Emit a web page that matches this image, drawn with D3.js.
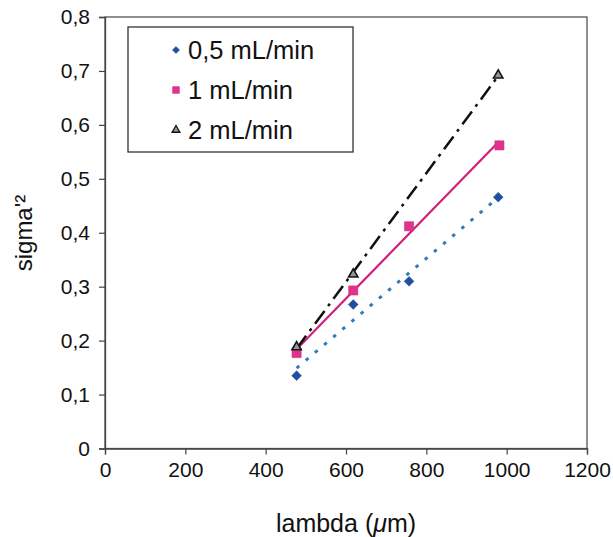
<!DOCTYPE html>
<html>
<head>
<meta charset="utf-8">
<script src="https://cdn.jsdelivr.net/npm/d3@7"></script>
<style>
  html, body { margin: 0; padding: 0; background: #fff; }
  svg { display: block; font-family: "Liberation Sans", Arial, sans-serif; }
</style>
</head>
<body>
<svg id="chart" width="613" height="537"></svg>
<script>
// ---- data ----
const seriesNames = ["0,5 mL/min", "1 mL/min", "2 mL/min"];
const lambda05 = [477, 618, 757, 979];
const sigma05  = [0.135, 0.267, 0.310, 0.466];
const lambda1  = [477, 618, 757, 982];
const sigma1   = [0.177, 0.293, 0.412, 0.562];
const lambda2  = [477, 618, 979];
const sigma2   = [0.188, 0.323, 0.692];
const xTicks = [0, 200, 400, 600, 800, 1000, 1200];
const yTicks = [0, 0.1, 0.2, 0.3, 0.4, 0.5, 0.6, 0.7, 0.8];

const series = [
  { name: seriesNames[0], xs: lambda05, ys: sigma05, shape: d3.symbolSquare, rot: 45, fill: "#1f4f9e", stroke: "#1f4f9e",
    line: "#2f7bbd", width: 3, dash: "3.5,8.5", size: 48, legSize: 26, sw: 0.5 },
  { name: seriesNames[1], xs: lambda1, ys: sigma1, shape: d3.symbolSquare, rot: 0, fill: "#e0338c", stroke: "#d42a82",
    line: "#d0207a", width: 2.2, dash: null, size: 85, legSize: 48, sw: 0.5 },
  { name: seriesNames[2], xs: lambda2, ys: sigma2, shape: d3.symbolTriangle, rot: 0, fill: "#8f998e", stroke: "#151515",
    line: "#111111", width: 2.5, dash: "16,6,3,6", size: 38, legSize: 26, sw: 1.6 }
];

const svg = d3.select("#chart");
const L = 105, R = 587, T = 17, B = 448.5;
const x = d3.scaleLinear().domain([0, 1200]).range([L, R]);
const y = d3.scaleLinear().domain([0, 0.8]).range([B, T]);

const fmt = v => d3.format(".1f")(v).replace(".", ",");

// plot frame
svg.append("rect").attr("x", L).attr("y", T).attr("width", R - L).attr("height", B - T)
  .attr("fill", "none").attr("stroke", "#555").attr("stroke-width", 1.3);

// axes
const xAxis = svg.append("g").attr("transform", `translate(0,${B})`)
  .call(d3.axisBottom(x).tickValues(xTicks).tickSize(6).tickPadding(8).tickFormat(d => String(d)));
const yAxis = svg.append("g").attr("transform", `translate(${L},0)`)
  .call(d3.axisLeft(y).tickValues(yTicks).tickSize(6).tickPadding(9).tickFormat(d => d === 0 ? "0" : fmt(d)));
[xAxis, yAxis].forEach(g => {
  g.select(".domain").attr("stroke", "#444").attr("stroke-width", 1.3);
  g.selectAll(".tick line").attr("stroke", "#444").attr("stroke-width", 1.2);
  g.selectAll(".tick text").attr("fill", "#111").style("font-size", "21px")
    .style("font-family", "'Liberation Sans', Arial, sans-serif");
});

// regression trend lines
function fit(xs, ys) {
  const mx = d3.mean(xs), my = d3.mean(ys);
  const sxy = d3.sum(xs, (v, i) => (v - mx) * (ys[i] - my));
  const sxx = d3.sum(xs, v => (v - mx) * (v - mx));
  const b = sxy / sxx, a = my - b * mx;
  return v => a + b * v;
}
const lineGen = d3.line().x(d => x(d[0])).y(d => y(d[1]));
series.forEach(s => {
  const f = fit(s.xs, s.ys);
  const ext = d3.extent(s.xs);
  svg.append("path").datum(ext.map(v => [v, f(v)]))
    .attr("d", lineGen).attr("fill", "none")
    .attr("stroke", s.line).attr("stroke-width", s.width)
    .attr("stroke-dasharray", s.dash);
});

// markers
series.forEach(s => {
  svg.append("g").selectAll("path").data(s.xs.map((v, i) => [v, s.ys[i]])).join("path")
    .attr("transform", d => `translate(${x(d[0])},${y(d[1])}) rotate(${s.rot})`)
    .attr("d", d3.symbol().type(s.shape).size(s.size))
    .attr("fill", s.fill).attr("stroke", s.stroke).attr("stroke-width", s.sw);
});

// axis titles
svg.append("text").attr("x", 346).attr("y", 532).attr("text-anchor", "middle")
  .style("font-size", "25px").attr("fill", "#111")
  .call(t => {
    t.append("tspan").text("lambda (");
    t.append("tspan").style("font-style", "italic").text("μ");
    t.append("tspan").text("m)");
  });
svg.append("text").attr("transform", "translate(32,233) rotate(-90)").attr("text-anchor", "middle")
  .style("font-size", "24px").attr("fill", "#111").text("sigma'²");

// legend
const leg = svg.append("g");
leg.append("rect").attr("x", 128).attr("y", 27).attr("width", 225).attr("height", 125)
  .attr("fill", "#fff").attr("stroke", "#333").attr("stroke-width", 1.3);
series.forEach((s, i) => {
  const cy = 50 + i * 40;
  leg.append("path").attr("transform", `translate(176,${cy}) rotate(${s.rot})`)
    .attr("d", d3.symbol().type(s.shape).size(s.legSize))
    .attr("fill", s.fill).attr("stroke", s.stroke).attr("stroke-width", s.sw * 0.85);
  leg.append("text").attr("x", 188).attr("y", cy + 9).style("font-size", "25.5px").attr("fill", "#111").text(s.name);
});
</script>
</body>
</html>
